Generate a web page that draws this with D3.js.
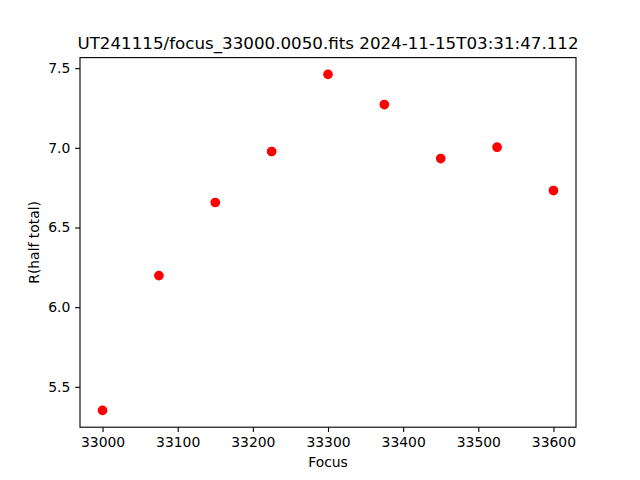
<!DOCTYPE html>
<html><head><meta charset="utf-8">
<script src="https://cdn.jsdelivr.net/npm/d3@7"></script>
<style>body{margin:0;background:#fff}svg{display:block}</style>
</head><body>
<script>
const focus = [33000, 33075, 33150, 33225, 33300, 33375, 33450, 33525, 33600];
const rhalf = [5.352, 6.198, 6.657, 6.977, 7.461, 7.272, 6.933, 7.004, 6.732];
const xTicks = [33000, 33100, 33200, 33300, 33400, 33500, 33600];
const yTicks = [5.5, 6.0, 6.5, 7.0, 7.5];
const title = "UT241115/focus_33000.0050.fits 2024-11-15T03:31:47.112";

const W = 640, H = 480;
const L = 80, R = 576, T = 57.6, B = 427.2;
const svg = d3.select("body").append("svg").attr("width", W).attr("height", H)
  .style("font-family", "'DejaVu Sans', sans-serif");
svg.append("rect").attr("width", W).attr("height", H).attr("fill", "#fff");

const [xmin, xmax] = d3.extent(focus), xm = (xmax - xmin) * 0.05;
const [ymin, ymax] = d3.extent(rhalf), ym = (ymax - ymin) * 0.05;
const x = d3.scaleLinear().domain([xmin - xm, xmax + xm]).range([L, R]);
const y = d3.scaleLinear().domain([ymin - ym, ymax + ym]).range([B, T]);

const tick = 4.86, pad = 4.86;
const xa = svg.append("g").attr("transform", `translate(0,${B})`)
  .call(d3.axisBottom(x).tickValues(xTicks).tickFormat(d3.format("d")).tickSizeOuter(0).tickSize(tick).tickPadding(pad));
const ya = svg.append("g").attr("transform", `translate(${L},0)`)
  .call(d3.axisLeft(y).tickValues(yTicks).tickFormat(d3.format(".1f")).tickSizeOuter(0).tickSize(tick).tickPadding(pad));
[xa, ya].forEach(a => {
  a.select(".domain").remove();
  a.selectAll("line").attr("stroke", "#000").attr("stroke-width", 1.11);
  a.selectAll("text").attr("fill", "#000").style("font-size", "13.9px").style("font-family", "'DejaVu Sans', sans-serif");
});

svg.selectAll("circle.pt").data(focus).join("circle").attr("class", "pt")
  .attr("cx", d => x(d)).attr("cy", (d, i) => y(rhalf[i])).attr("r", 4.17)
  .attr("fill", "#ff0000").attr("stroke", "#ff0000").attr("stroke-width", 1.39);

svg.append("rect").attr("x", L).attr("y", T).attr("width", R - L).attr("height", B - T)
  .attr("fill", "none").attr("stroke", "#000").attr("stroke-width", 1.11);

svg.append("text").attr("x", (L + R) / 2).attr("y", T - 8.3).attr("text-anchor", "middle")
  .style("font-size", "16.7px").text(title);
svg.append("text").attr("x", (L + R) / 2).attr("y", 467).attr("text-anchor", "middle")
  .style("font-size", "13.9px").text("Focus");
svg.append("text").attr("transform", `translate(39,${(T + B) / 2}) rotate(-90)`).attr("text-anchor", "middle")
  .style("font-size", "13.9px").text("R(half total)");
</script>
</body></html>
